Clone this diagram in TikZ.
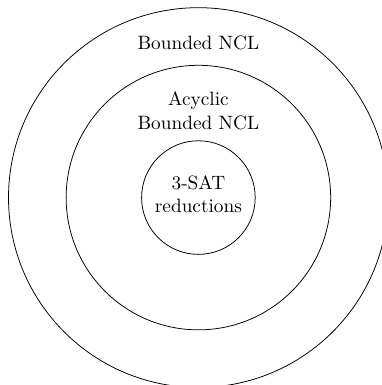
\documentclass[tikz,border=0pt]{standalone}
\begin{document}
\begin{tikzpicture}[scale=1]
                    \useasboundingbox (-3.615,-3.415) rectangle (3.34,3.60);

                    \draw (0,0) circle (3.46);
                    \draw (0,0) circle (2.41);
                    \draw (0,0) circle (1.035);
                    \node (bncl) at (0,2.81) {Bounded NCL};
                    \node[align=center] (abncl) at (0,1.58) {Acyclic\\Bounded NCL};
                    \node[align=center] (sat) at (0,0.06) {3-SAT\\reductions};

                \end{tikzpicture}
\end{document}
